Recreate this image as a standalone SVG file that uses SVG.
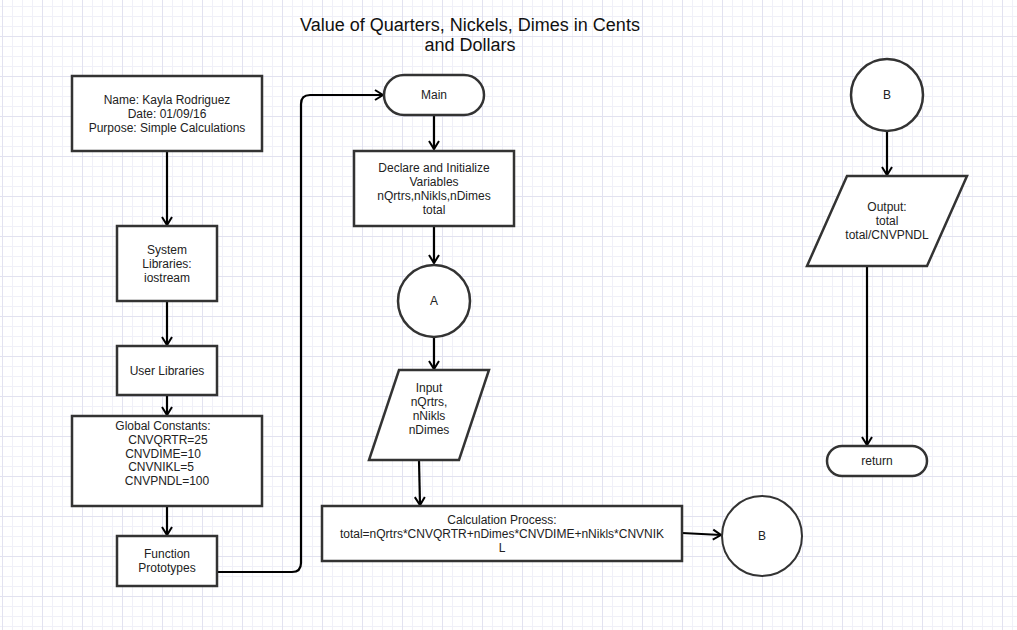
<svg xmlns="http://www.w3.org/2000/svg" width="1017" height="630" viewBox="0 0 1017 630">
<defs>
<pattern id="minor" x="2" y="6" width="10" height="10" patternUnits="userSpaceOnUse">
<path d="M0,0.5 H10 M0.5,0 V10" stroke="#f0f0f8" stroke-width="1" fill="none"/>
</pattern>
<pattern id="major" x="2" y="36" width="40" height="40" patternUnits="userSpaceOnUse">
<path d="M0,0.5 H40 M0.5,0 V40" stroke="#e2e2f0" stroke-width="1" fill="none"/>
</pattern>
<marker id="arr" markerWidth="14" markerHeight="14" refX="11" refY="7" orient="auto" markerUnits="userSpaceOnUse">
<path d="M3,2 L11,7 L3,12" fill="none" stroke="#000" stroke-width="2"/>
</marker>
</defs>
<style>
.shape{fill:#fff;stroke:#333;stroke-width:2.5}
.conn{fill:none;stroke:#000;stroke-width:2.2}
text{font-family:"Liberation Sans",Arial,sans-serif;font-size:12px;fill:#222;text-anchor:middle}
.title{font-size:18px;fill:#111}
</style>
<rect width="1017" height="630" fill="#fff"/>
<rect width="1017" height="630" fill="url(#minor)"/>
<rect width="1017" height="630" fill="url(#major)"/>

<g id="title">
<text class="title" x="470" y="31">Value of Quarters, Nickels, Dimes in Cents</text>
<text class="title" x="470" y="51">and Dollars</text>
</g>

<g id="connectors">
<path class="conn" d="M167,152 V225" marker-end="url(#arr)"/>
<path class="conn" d="M167,301 V345" marker-end="url(#arr)"/>
<path class="conn" d="M167,395 V415" marker-end="url(#arr)"/>
<path class="conn" d="M167,506 V535" marker-end="url(#arr)"/>
<path class="conn" d="M217,572 H292 Q301,572 301,563 V104 Q301,95 310,95 H383" marker-end="url(#arr)"/>
<path class="conn" d="M434,115 V149" marker-end="url(#arr)"/>
<path class="conn" d="M434,226 V263" marker-end="url(#arr)"/>
<path class="conn" d="M434,338 V369" marker-end="url(#arr)"/>
<path class="conn" d="M419,460 L420,505" marker-end="url(#arr)"/>
<path class="conn" d="M682,533 L721,535" marker-end="url(#arr)"/>
<path class="conn" d="M887,131 V175" marker-end="url(#arr)"/>
<path class="conn" d="M867,266 V445" marker-end="url(#arr)"/>
</g>

<g id="header">
<rect class="shape" x="72" y="76" width="190" height="75"/>
<text x="167" y="104">Name: Kayla Rodriguez</text>
<text x="167" y="118">Date: 01/09/16</text>
<text x="167" y="132">Purpose: Simple Calculations</text>
</g>

<g id="syslib">
<rect class="shape" x="117" y="226" width="100" height="75"/>
<text x="167" y="254">System</text>
<text x="167" y="268">Libraries:</text>
<text x="167" y="282">iostream</text>
</g>

<g id="userlib">
<rect class="shape" x="117" y="346" width="100" height="49"/>
<text x="167" y="375">User Libraries</text>
</g>

<g id="globals">
<rect class="shape" x="72" y="416" width="190" height="90"/>
<text x="163" y="430">Global Constants:</text>
<text x="168" y="444">CNVQRTR=25</text>
<text x="163" y="458">CNVDIME=10</text>
<text x="161" y="471">CNVNIKL=5</text>
<text x="167" y="485">CNVPNDL=100</text>
</g>

<g id="protos">
<rect class="shape" x="117" y="536" width="100" height="50"/>
<text x="167" y="558">Function</text>
<text x="167" y="572">Prototypes</text>
</g>

<g id="main">
<rect class="shape" x="384" y="75" width="100" height="40" rx="20" ry="20"/>
<text x="434" y="99">Main</text>
</g>

<g id="declare">
<rect class="shape" x="354" y="151" width="160" height="75"/>
<text x="434" y="172">Declare and Initialize</text>
<text x="434" y="186">Variables</text>
<text x="434" y="200">nQrtrs,nNikls,nDimes</text>
<text x="434" y="214">total</text>
</g>

<g id="connA">
<circle class="shape" cx="434" cy="301" r="36"/>
<text x="434" y="305">A</text>
</g>

<g id="input">
<polygon class="shape" points="399,370 489,370 459,460 369,460"/>
<text x="429" y="392">Input</text>
<text x="429" y="406">nQrtrs,</text>
<text x="429" y="420">nNikls</text>
<text x="429" y="434">nDimes</text>
</g>

<g id="calc">
<rect class="shape" x="322" y="506" width="360" height="55"/>
<text x="502" y="524">Calculation Process:</text>
<text x="502" y="538">total=nQrtrs*CNVQRTR+nDimes*CNVDIME+nNikls*CNVNIK</text>
<text x="502" y="552">L</text>
</g>

<g id="connB1">
<circle cx="762" cy="536" r="40" fill="#fff" stroke="#333" stroke-width="2"/>
<text x="762" y="540">B</text>
</g>

<g id="connB2">
<circle class="shape" cx="887" cy="95" r="36"/>
<text x="887" y="99">B</text>
</g>

<g id="output">
<polygon class="shape" points="847,176 967,176 927,266 807,266"/>
<text x="887" y="211">Output:</text>
<text x="887" y="225">total</text>
<text x="887" y="239">total/CNVPNDL</text>
</g>

<g id="return">
<rect class="shape" x="827" y="446" width="100" height="30" rx="15" ry="15"/>
<text x="877" y="465">return</text>
</g>
</svg>
